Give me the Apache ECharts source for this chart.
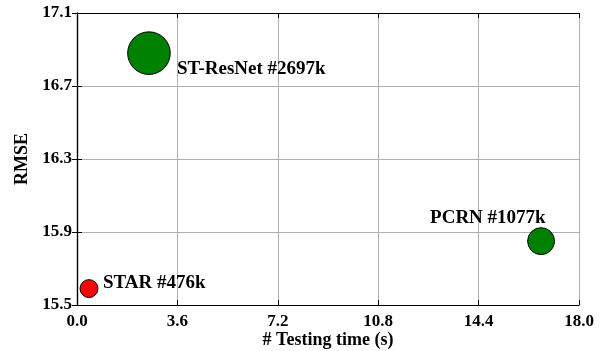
<!DOCTYPE html>
<html>
<head>
<meta charset="utf-8">
<script src="https://cdn.jsdelivr.net/npm/echarts@6/dist/echarts.min.js"></script>
<style>
html,body{margin:0;padding:0;background:#fff;}
#chart{width:604px;height:351px;}
</style>
</head>
<body>
<div id="chart"></div>
<script>
// ---- data ----
const models = ['STAR', 'ST-ResNet', 'PCRN'];
const testTime = [0.43, 2.58, 16.64];
const rmse = [15.59, 16.88, 15.85];
const paramsK = [476, 2697, 1077];
const xRange = [0, 18];
const yRange = [15.5, 17.1];
const xStep = 3.6;
const yStep = 0.4;

// ---- style ----
const FONT = 'Liberation Serif';
const colorOf = { 'STAR': '#ff0000', 'ST-ResNet': '#008000', 'PCRN': '#008000' };
const labelOffset = { 'STAR': [14, -5], 'ST-ResNet': [28, 16], 'PCRN': [-111, -23] };

const chart = echarts.init(document.getElementById('chart'), null, { renderer: 'canvas' });

const points = models.map((m, i) => ({
  name: m,
  value: [testTime[i], rmse[i], paramsK[i]],
  itemStyle: { color: colorOf[m], borderColor: '#000', borderWidth: 1, opacity: 1 },
  label: {
    show: true,
    position: 'inside',
    align: 'left',
    verticalAlign: 'middle',
    offset: labelOffset[m],
    formatter: m + ' #' + paramsK[i] + 'k',
    color: '#000',
    opacity: 1,
    fontFamily: FONT,
    fontWeight: 'bold',
    fontSize: 19
  }
}));

const tickStyle = { show: true, inside: true, length: 5, lineStyle: { color: '#000', width: 1 } };
const lineStyle = { show: true, lineStyle: { color: '#000', width: 1.2 } };
const labelStyle = { fontFamily: FONT, fontWeight: 'bold', fontSize: 17, color: '#000' };

chart.setOption({
  animation: false,
  backgroundColor: '#fff',
  grid: { left: 77, top: 13, width: 502, height: 292, containLabel: false, outerBoundsMode: 'none' },
  xAxis: [{
    type: 'value', min: xRange[0], max: xRange[1], interval: xStep,
    position: 'bottom',
    name: '# Testing time (s)', nameLocation: 'middle', nameGap: 26, nameMoveOverlap: false,
    nameTextStyle: { fontFamily: FONT, fontWeight: 'bold', fontSize: 18, color: '#000' },
    axisLine: lineStyle, axisTick: tickStyle,
    axisLabel: Object.assign({ margin: 8, formatter: v => v.toFixed(1) }, labelStyle),
    splitLine: { show: true, lineStyle: { color: '#b0b0b0', width: 1 } }
  }, {
    type: 'value', min: xRange[0], max: xRange[1], interval: xStep,
    position: 'top',
    axisLine: lineStyle, axisTick: tickStyle,
    axisLabel: { show: false }, splitLine: { show: false }
  }],
  yAxis: [{
    type: 'value', min: yRange[0], max: yRange[1], interval: yStep,
    position: 'left',
    name: 'RMSE', nameLocation: 'middle', nameGap: 46, nameMoveOverlap: false,
    nameTextStyle: { fontFamily: FONT, fontWeight: 'bold', fontSize: 18, color: '#000' },
    axisLine: lineStyle, axisTick: tickStyle,
    axisLabel: Object.assign({ margin: 5, formatter: v => v.toFixed(1) }, labelStyle),
    splitLine: { show: true, lineStyle: { color: '#b0b0b0', width: 1 } }
  }, {
    type: 'value', min: yRange[0], max: yRange[1], interval: yStep,
    position: 'right',
    axisLine: lineStyle, axisTick: tickStyle,
    axisLabel: { show: false }, splitLine: { show: false }
  }],
  series: [{
    type: 'scatter',
    xAxisIndex: 0, yAxisIndex: 0,
    symbol: 'circle',
    symbolSize: v => 0.82 * Math.sqrt(v[2]),
    data: points,
    z: 5
  }]
});
</script>
</body>
</html>
